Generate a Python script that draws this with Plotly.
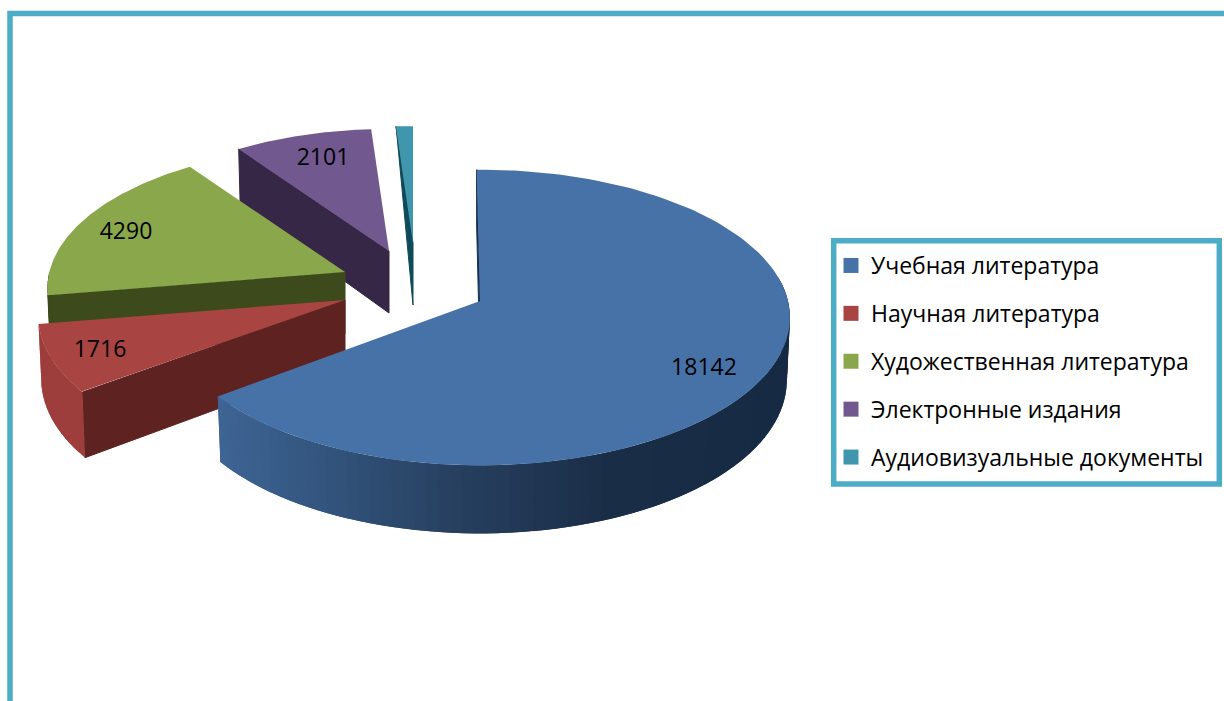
import numpy as np
import plotly.graph_objects as go

categories = ["Учебная литература", "Научная литература", "Художественная литература",
              "Электронные издания", "Аудиовизуальные документы"]
values = [18142, 1716, 4290, 2101, 300]
shown_labels = ["18142", "1716", "4290", "2101", ""]
label_x = [704, 100, 126, 323, None]
label_y = [369, 351, 233, 159, None]

top_colors = ["#4672a8", "#a84442", "#8aa84b", "#71588f", "#3f96ad"]
cut_colors = ["#17304f", "#5e2320", "#3c4a1c", "#352745", "#0f4a58"]
rim_colors = [None, "#9e3e3c", "#3c4a1c", "#352745", "#0f4a58"]
blue_rim_x = [224, 350, 450, 600, 800]
blue_rim_rgb = [(62, 100, 148), (48, 80, 118), (39, 64, 96), (27, 46, 72), (23, 42, 68)]

# exploded wedge origins and the shrink that perspective gives to far wedges
origins = [(480, 301), (345, 300), (345, 272), (389, 251), (413, 243)]
scales = [1.0, 0.99, 0.96, 0.93, 0.89]
rim_depth = [1, 1, 1, 1, 0]
start_trim = [-0.7, 0, 0, 0, 0]
end_trim = [1.0, 0, 0, 0, 0]
A, B, K = 308.0, 146.0, 0.112
# the chart's 3D projection distorts the apparent slice angles
warp_in = [0, 246, 269.3, 327.4, 355.9, 360]
warp_out = [0, 233.5, 260.7, 325, 356.0, 360]

total = sum(values)
bounds = np.cumsum([0] + values) / total * 360.0
drawn = np.interp(bounds, warp_in, warp_out)


def project(t_deg, i, lower=False, r=1.0):
    t = np.radians(t_deg)
    X, Y = r * np.sin(t), r * np.cos(t)
    s = 1.0 / (1.0 + K * Y)
    ox, oy = origins[i]
    f = 0.99 if lower else 1.0
    sx = ox + f * A * scales[i] * X * s
    sy = oy - B * scales[i] * Y * s
    if lower:
        sy = sy + (62 - 6 * Y) * (rim_depth[i] if r > 0 else 1)
    return sx, sy


def poly(xs, ys, color, width=0):
    return go.Scatter(x=list(xs), y=list(ys), mode="lines", fill="toself", fillcolor=color,
                      line=dict(color=color, width=width), hoverinfo="skip", showlegend=False)


fig = go.Figure()
for i in [4, 3, 2, 1, 0]:
    t0, t1 = drawn[i] + start_trim[i], drawn[i + 1] - end_trim[i]
    # cut face: the one that faces the viewer
    ax, ay = project(t0, i, r=0.0)
    bx, by = project(t0, i)
    cx, cy = project(t0, i, lower=True)
    dx, dy = project(t0, i, lower=True, r=0.0)
    fig.add_trace(poly([ax, bx, cx, dx, ax], [ay, by, cy, dy, ay], cut_colors[i], width=1))
    # outer rim in overlapping strips, only where it faces the viewer
    r0, r1 = max(t0, 80), min(t1, 270)
    if r1 > r0:
        edges = np.linspace(r0, r1, max(2, int((r1 - r0) / 2) + 2))
        for a, b in zip(edges[:-1], edges[1:]):
            b2 = min(b + 2, r1)
            arc = np.linspace(a, b2, 5)
            x1, y1 = project(arc, i)
            x2, y2 = project(arc[::-1], i, lower=True)
            if i == 0:
                mx = (x1[0] + x1[-1]) / 2
                rgb = [np.interp(mx, blue_rim_x, [c[k] for c in blue_rim_rgb]) for k in range(3)]
                col = "rgb(%d,%d,%d)" % tuple(rgb)
            else:
                col = rim_colors[i]
            fig.add_trace(poly([*x1, *x2, x1[0]], [*y1, *y2, y1[0]], col))
    # top face
    ts = np.linspace(t0, t1, 120)
    px, py = project(ts, i)
    fig.add_trace(poly([ax, *px, ax], [ay, *py, ay], top_colors[i]))

fig.add_trace(go.Scatter(x=[v for v in label_x if v], y=[v for v in label_y if v],
                         text=[v for v in shown_labels if v], mode="text",
                         textfont=dict(family="Open Sans", size=23, color="#000000"),
                         hoverinfo="skip", showlegend=False))

for name, col in zip(categories, top_colors):
    fig.add_trace(go.Scatter(x=[None], y=[None], mode="markers", name=name, legendgroup=name,
                             marker=dict(symbol="square", size=15, color=col)))

teal = "#4dacc6"
fig.update_layout(
    width=1224, height=701, autosize=False,
    margin=dict(l=0, r=0, t=0, b=0),
    paper_bgcolor="#ffffff", plot_bgcolor="#ffffff",
    xaxis=dict(range=[0, 1224], visible=False, fixedrange=True),
    yaxis=dict(range=[701, 0], visible=False, fixedrange=True),
    shapes=[
        dict(type="rect", x0=10, y0=13.5, x1=1400, y1=900, line=dict(color=teal, width=5.5), layer="below"),
        dict(type="rect", x0=833.7, y0=240.7, x1=1219.3, y1=484, line=dict(color=teal, width=5.5), layer="below"),
    ],
    legend=dict(x=831 / 1224, y=1 - 244 / 701, xanchor="left", yanchor="top",
                bgcolor="rgba(0,0,0,0)", borderwidth=0, tracegroupgap=15,
                traceorder="grouped", itemclick=False, itemdoubleclick=False,
                font=dict(family="Open Sans", size=23, color="#000000")),
    showlegend=True,
)
fig.write_html("out.html", config={"displayModeBar": False},
               post_script="document.body.style.margin='0';")
